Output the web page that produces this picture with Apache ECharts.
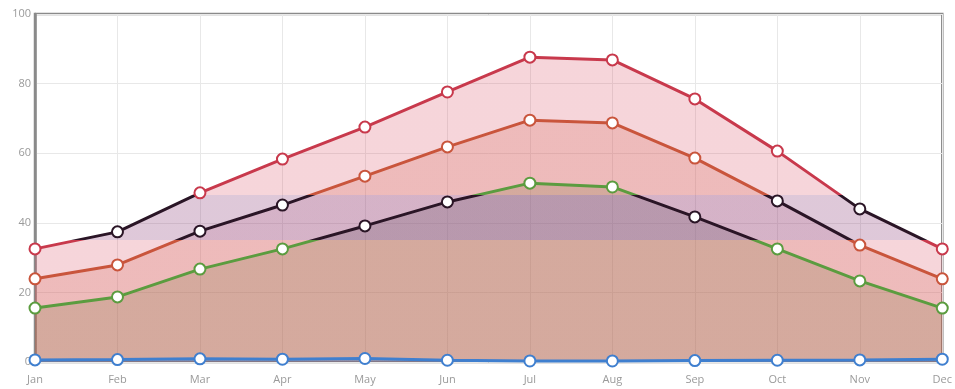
<!DOCTYPE html>
<html><head><meta charset="utf-8">
<script src="https://cdn.jsdelivr.net/npm/echarts@6/dist/echarts.min.js"></script>
<style>html,body{margin:0;padding:0;background:#fff}#c{width:955px;height:389px}</style>
</head><body><div id="c"></div>
<script>
const months = ['Jan','Feb','Mar','Apr','May','Jun','Jul','Aug','Sep','Oct','Nov','Dec'];
const yTicks = [0,20,40,60,80,100];
const highValues = [32.5,37.4,48.6,58.3,67.5,77.6,87.6,86.8,75.6,60.6,44.0,32.5];
const meanValues = [23.9,27.9,37.6,45.1,53.4,61.8,69.5,68.7,58.6,46.3,33.6,23.9];
const lowValues  = [15.5,18.7,26.7,32.5,39.1,46.0,51.4,50.3,41.7,32.5,23.3,15.5];
const baseValues = [0.6,0.7,0.9,0.8,1.0,0.5,0.3,0.3,0.4,0.5,0.6,0.8];
const seriesNames = ['High','Mean','Low','Base'];
const lineColors = ['#c8394c','#c9553c','#5b9c3f','#3f7fcf'];
const lineBandColor = '#2a1526';
const areaColors = ['rgba(214,64,87,0.22)','rgba(210,95,77,0.22)','rgba(138,119,71,0.25)','rgba(63,127,207,0.3)'];
const areaBandColors = ['rgba(138,58,118,0.28)','rgba(170,80,120,0.18)','rgba(120,95,115,0.3)','rgba(63,127,207,0.3)'];
const bandLow = 35, bandHigh = 48;

const allData = [highValues, meanValues, lowValues, baseValues];
const n = allData.length;
const series = [];
const visualMaps = [];
allData.forEach((d, i) => {
  series.push({
    name: seriesNames[i] + ' area', type: 'line', data: d,
    showSymbol: false, silent: true,
    lineStyle: {width: 0}, areaStyle: {opacity: 1}, z: 1
  });
  visualMaps.push({
    type: 'piecewise', show: false, dimension: 1, seriesIndex: i,
    pieces: [
      {lt: bandLow, color: areaColors[i]},
      {gte: bandLow, lte: bandHigh, color: areaBandColors[i]},
      {gt: bandHigh, color: areaColors[i]}
    ]
  });
});
allData.forEach((d, i) => {
  series.push({
    name: seriesNames[i], type: 'line', data: d,
    symbol: 'emptyCircle', symbolSize: 11,
    lineStyle: {width: 3},
    itemStyle: {borderWidth: 3},
    z: 5 + (n - i)
  });
  visualMaps.push({
    type: 'piecewise', show: false, dimension: 1, seriesIndex: n + i,
    pieces: [
      {lt: bandLow, color: lineColors[i]},
      {gte: bandLow, lte: bandHigh, color: lineBandColor},
      {gt: bandHigh, color: lineColors[i]}
    ]
  });
});

const chart = echarts.init(document.getElementById('c'));
chart.setOption({
  animation: false,
  grid: {left: 35, right: 10, top: 14, bottom: 27, show: true, borderColor: '#8a8a8a', borderWidth: 2.5, backgroundColor: 'transparent'},
  visualMap: visualMaps,
  xAxis: {
    type: 'category', data: months, boundaryGap: false,
    axisLine: {show: false}, axisTick: {show: false},
    axisLabel: {color: '#9a9a9a', fontSize: 11, margin: 12, fontFamily: 'Open Sans'},
    splitLine: {show: true, lineStyle: {color: '#e8e8e8'}}
  },
  yAxis: {
    type: 'value', min: yTicks[0], max: yTicks[yTicks.length-1], interval: 20,
    axisLine: {show: true, lineStyle: {color: '#8a8a8a', width: 2.5}}, axisTick: {show: false},
    axisLabel: {color: '#9a9a9a', fontSize: 11, margin: 4, fontFamily: 'Open Sans'},
    splitLine: {show: true, lineStyle: {color: '#e8e8e8'}}
  },
  series: series
});
</script></body></html>
